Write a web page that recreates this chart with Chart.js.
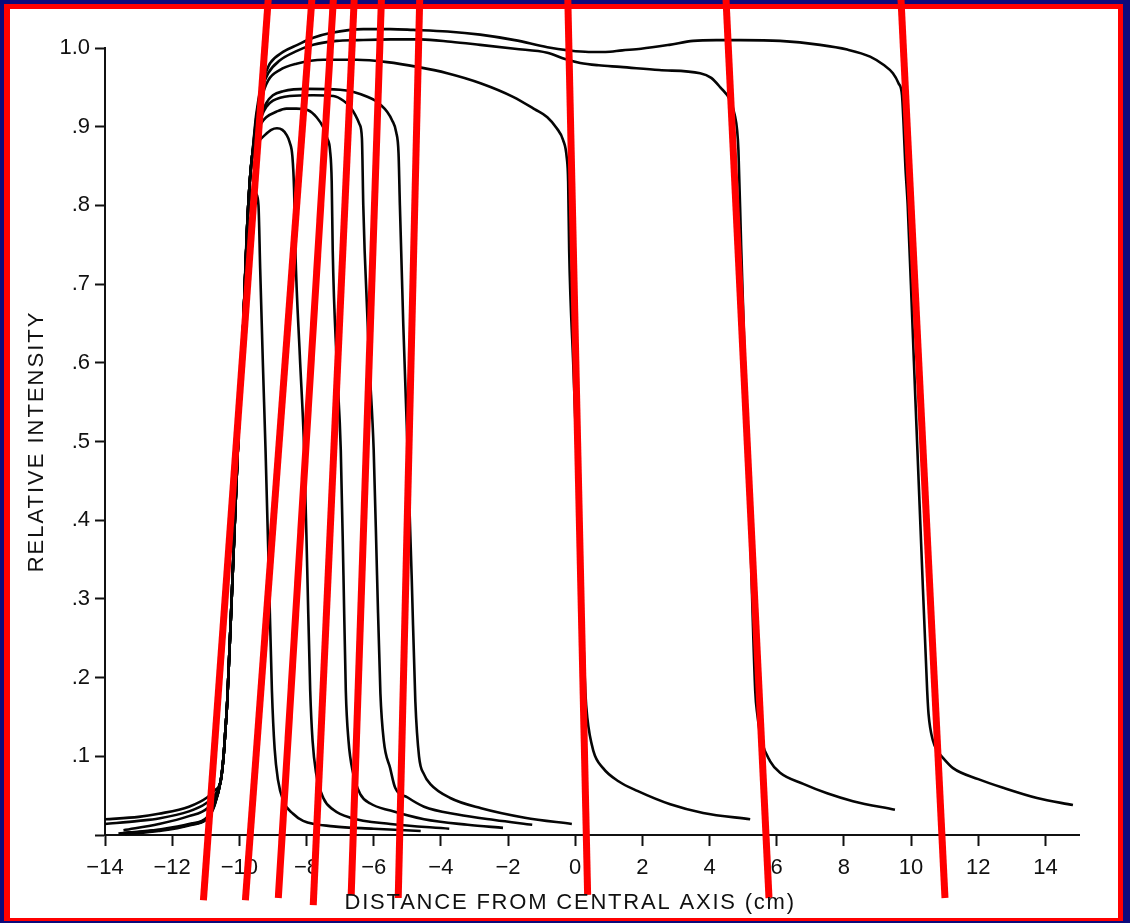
<!DOCTYPE html>
<html>
<head>
<meta charset="utf-8">
<title>Relative intensity profiles</title>
<script src="https://cdn.jsdelivr.net/npm/chart.js@4.4.0/dist/chart.umd.min.js"></script>
<style>
  html, body { margin: 0; padding: 0; background: #0c0a7c; }
  #page { position: relative; width: 1130px; height: 923px; overflow: hidden; background: #0c0a7c; }
  #redFrame { position: absolute; left: 4px; top: 4px; width: 1119px; height: 917px; background: #ff0000; }
  #paper { position: absolute; left: 10px; top: 9px; width: 1108px; height: 909px; background: #ffffff; }
  canvas { position: absolute; left: 0; top: 0; }
</style>
</head>
<body>
<div id="page">
  <div id="redFrame"></div>
  <div id="paper"></div>
  <canvas id="profileChart" width="1130" height="923"></canvas>
</div>
<script>
// Axis ticks and titles
const xTicks = [-14, -12, -10, -8, -6, -4, -2, 0, 2, 4, 6, 8, 10, 12, 14];
const xTickLabels = ['\u221214', '\u221212', '\u221210', '\u22128', '\u22126', '\u22124', '\u22122', '0', '2', '4', '6', '8', '10', '12', '14'];
const yTicks = [0, 0.1, 0.2, 0.3, 0.4, 0.5, 0.6, 0.7, 0.8, 0.9, 1.0];
const yTickLabels = ['', '.1', '.2', '.3', '.4', '.5', '.6', '.7', '.8', '.9', '1.0'];
const xTitle = 'DISTANCE FROM CENTRAL AXIS (cm)';
const yTitle = 'RELATIVE INTENSITY';

// Left penumbra, common to every profile
const edgeX = [-10.55, -10.47, -10.42, -10.36, -10.2, -10.06, -9.9, -9.76];
const edgeY = [0.07, 0.10, 0.13, 0.17, 0.33, 0.475, 0.63, 0.78];

// Profiles, smallest field first: left tail, then top and right side
const field1TailX = [-13.4, -12.4, -11.5, -10.95, -10.75];
const field1TailY = [0.001, 0.005, 0.012, 0.021, 0.036];
const field1X = [-9.7, -9.64, -9.57, -9.5, -9.43, -9.38, -9.3, -9.22, -9.12, -9.03, -8.95, -8.85, -8.69, -8.4, -8.1, -7.2, -6.0, -4.6];
const field1Y = [0.805, 0.817, 0.82, 0.815, 0.80, 0.72, 0.60, 0.489, 0.33, 0.183, 0.11, 0.07, 0.043, 0.027, 0.018, 0.011, 0.008, 0.005];

const field2TailX = [-13.5, -12.4, -11.5, -10.95, -10.75];
const field2TailY = [0.002, 0.006, 0.013, 0.022, 0.037];
const field2X = [-9.69, -9.61, -9.45, -9.25, -9.05, -8.88, -8.72, -8.6, -8.5, -8.42, -8.37, -8.33, -8.2, -8.07, -7.98, -7.89, -7.82, -7.72, -7.5, -7.2, -6.7, -5.5, -3.75];
const field2Y = [0.83, 0.866, 0.880, 0.889, 0.896, 0.898, 0.896, 0.890, 0.880, 0.862, 0.82, 0.74, 0.61, 0.489, 0.34, 0.183, 0.12, 0.08, 0.047, 0.032, 0.022, 0.014, 0.008];

const field3TailX = [-13.55, -12.4, -11.5, -10.95, -10.75];
const field3TailY = [0.002, 0.006, 0.013, 0.022, 0.038];
const field3X = [-9.69, -9.61, -9.5, -9.35, -9.2, -8.9, -8.6, -8.3, -7.95, -7.7, -7.5, -7.38, -7.3, -7.25, -7.22, -7.1, -6.98, -6.9, -6.83, -6.75, -6.62, -6.4, -6.1, -5.5, -4.5, -3.2, -2.15];
const field3Y = [0.83, 0.866, 0.885, 0.904, 0.912, 0.919, 0.923, 0.923, 0.921, 0.912, 0.899, 0.885, 0.87, 0.83, 0.743, 0.60, 0.489, 0.33, 0.183, 0.12, 0.08, 0.052, 0.040, 0.031, 0.020, 0.013, 0.009];

const field4TailX = [-13.55, -12.4, -11.5, -10.95, -10.75];
const field4TailY = [0.002, 0.006, 0.013, 0.022, 0.038];
const field4X = [-9.69, -9.61, -9.5, -9.35, -9.2, -9.0, -8.5, -7.8, -7.2, -6.9, -6.7, -6.55, -6.42, -6.35, -6.31, -6.27, -6.13, -6.0, -5.9, -5.8, -5.7, -5.51, -5.36, -5.0, -4.5, -3.5, -2.4, -1.28];
const field4Y = [0.83, 0.866, 0.89, 0.912, 0.925, 0.933, 0.939, 0.940, 0.939, 0.933, 0.925, 0.915, 0.903, 0.885, 0.80, 0.743, 0.60, 0.489, 0.33, 0.18, 0.12, 0.085, 0.060, 0.048, 0.036, 0.026, 0.019, 0.013];

const field5TailX = [-13.6, -12.4, -11.5, -10.95, -10.75];
const field5TailY = [0.002, 0.007, 0.014, 0.023, 0.039];
const field5X = [-9.69, -9.61, -9.5, -9.35, -9.2, -9.0, -8.7, -8.0, -7.0, -6.6, -6.19, -5.95, -5.8, -5.6, -5.45, -5.33, -5.26, -5.22, -5.12, -4.99, -4.87, -4.76, -4.65, -4.5, -4.32, -3.72, -2.8, -1.5, -0.1];
const field5Y = [0.83, 0.866, 0.892, 0.915, 0.930, 0.940, 0.945, 0.948, 0.947, 0.944, 0.938, 0.933, 0.928, 0.919, 0.908, 0.893, 0.866, 0.80, 0.65, 0.489, 0.33, 0.17, 0.10, 0.077, 0.065, 0.047, 0.034, 0.022, 0.014];

const field6TailX = [-13.45, -12.4, -11.5, -10.95, -10.75];
const field6TailY = [0.006, 0.014, 0.024, 0.034, 0.046];
const field6X = [-9.69, -9.61, -9.5, -9.35, -9.14, -8.8, -8.3, -7.5, -6.5, -5.6, -4.7, -3.81, -2.8, -1.85, -1.2, -0.83, -0.55, -0.36, -0.25, -0.21, -0.18, -0.06, 0.06, 0.18, 0.30, 0.36, 0.54, 0.83, 1.3, 1.85, 2.83, 3.81, 5.21];
const field6Y = [0.83, 0.866, 0.905, 0.935, 0.959, 0.972, 0.980, 0.985, 0.985, 0.982, 0.976, 0.968, 0.955, 0.938, 0.922, 0.912, 0.898, 0.883, 0.86, 0.83, 0.743, 0.60, 0.463, 0.32, 0.183, 0.149, 0.107, 0.085, 0.068, 0.056, 0.039, 0.028, 0.020];

const field7TailX = [-14, -13, -12.4, -11.5, -11.0, -10.75];
const field7TailY = [0.014, 0.018, 0.021, 0.030, 0.040, 0.050];
const field7X = [-9.69, -9.61, -9.5, -9.35, -9.14, -8.8, -8.3, -7.8, -7.1, -6.49, -5.5, -4.61, -3.7, -2.83, -1.8, -0.83, -0.3, 0.15, 0.7, 1.34, 2.5, 3.72, 4.05, 4.32, 4.61, 4.75, 4.82, 4.86, 4.94, 5.05, 5.2, 5.36, 5.42, 5.55, 5.80, 6.10, 6.79, 7.5, 8.27, 9.52];
const field7Y = [0.83, 0.866, 0.91, 0.945, 0.968, 0.984, 0.996, 1.004, 1.009, 1.010, 1.011, 1.011, 1.008, 1.004, 0.999, 0.994, 0.986, 0.981, 0.978, 0.976, 0.972, 0.968, 0.962, 0.950, 0.934, 0.915, 0.896, 0.87, 0.75, 0.6, 0.4, 0.183, 0.154, 0.12, 0.094, 0.079, 0.065, 0.053, 0.043, 0.032];

const field8TailX = [-14, -13, -12.4, -11.5, -10.95, -10.75];
const field8TailY = [0.020, 0.023, 0.027, 0.036, 0.048, 0.056];
const field8X = [-9.69, -9.61, -9.5, -9.35, -9.2, -9.08, -8.7, -8.27, -7.8, -7.29, -6.31, -5.5, -4.82, -3.8, -2.83, -1.8, -0.83, -0.2, 0.4, 0.9, 1.4, 1.96, 2.8, 3.51, 4.2, 4.91, 6.10, 7.29, 8.1, 8.78, 9.2, 9.46, 9.63, 9.73, 9.78, 9.83, 9.9, 10.04, 10.13, 10.3, 10.48, 10.52, 10.65, 10.8, 10.95, 11.25, 12.0, 12.74, 13.75, 14.82];
const field8Y = [0.83, 0.866, 0.915, 0.952, 0.970, 0.981, 0.995, 1.004, 1.013, 1.019, 1.024, 1.024, 1.023, 1.021, 1.017, 1.01, 1.001, 0.997, 0.995, 0.995, 0.997, 0.999, 1.004, 1.009, 1.010, 1.010, 1.009, 1.004, 0.998, 0.989, 0.978, 0.968, 0.955, 0.94, 0.90, 0.85, 0.80, 0.65, 0.552, 0.37, 0.183, 0.154, 0.120, 0.106, 0.098, 0.085, 0.071, 0.060, 0.047, 0.038];

// Red straight lines drawn over the scan (top end at the page edge)
const redTopY = 1.062;
const redTopX = [-9.14, -7.84, -7.20, -6.58, -5.77, -4.63, -0.22, 4.49, 9.70];
const redBottomX = [-11.07, -9.82, -8.84, -7.80, -6.67, -5.27, 0.37, 5.77, 11.01];
const redBottomY = [-0.083, -0.083, -0.080, -0.089, -0.076, -0.080, -0.076, -0.080, -0.080];

const fields = [
    [field1TailX, field1TailY, field1X, field1Y],
    [field2TailX, field2TailY, field2X, field2Y],
    [field3TailX, field3TailY, field3X, field3Y],
    [field4TailX, field4TailY, field4X, field4Y],
    [field5TailX, field5TailY, field5X, field5Y],
    [field6TailX, field6TailY, field6X, field6Y],
    [field7TailX, field7TailY, field7X, field7Y],
    [field8TailX, field8TailY, field8X, field8Y]
];

function toPoints(xs, ys) {
    return xs.map((x, i) => ({ x: x, y: ys[i] }));
}

const datasets = [];

// Red lines first so they are painted on top
redTopX.forEach((topX, i) => {
    datasets.push({
        data: [{ x: topX, y: redTopY }, { x: redBottomX[i], y: redBottomY[i] }],
        showLine: true,
        borderColor: '#ff0000',
        borderWidth: 7,
        borderCapStyle: 'butt',
        pointRadius: 0,
        tension: 0,
        clip: false,
        order: 0
    });
});

fields.forEach(f => {
    const xs = f[0].concat(edgeX, f[2]);
    const ys = f[1].concat(edgeY, f[3]);
    datasets.push({
        data: toPoints(xs, ys),
        showLine: true,
        borderColor: '#050505',
        borderWidth: 2.6,
        borderJoinStyle: 'round',
        pointRadius: 0,
        cubicInterpolationMode: 'monotone',
        clip: false,
        order: 1
    });
});

// Axis titles, drawn with letter spacing like the hand lettering
const axisTitles = {
    id: 'axisTitles',
    afterDraw(chart) {
        const ctx = chart.ctx;
        const xScale = chart.scales.x;
        const yScale = chart.scales.y;
        ctx.save();
        ctx.fillStyle = '#111111';
        ctx.font = '22px "Liberation Sans", Arial, sans-serif';
        ctx.textAlign = 'center';
        ctx.textBaseline = 'middle';
        ctx.letterSpacing = '1.8px';
        ctx.fillText(xTitle, xScale.getPixelForValue(-0.15), 903);
        ctx.translate(37, (yScale.top + yScale.bottom) / 2);
        ctx.rotate(-Math.PI / 2);
        ctx.letterSpacing = '2px';
        ctx.fillText(yTitle, 0, 0);
        ctx.restore();
    }
};

const tickFont = { family: '"Liberation Sans", Arial, sans-serif', size: 22 };

new Chart(document.getElementById('profileChart').getContext('2d'), {
    type: 'scatter',
    data: { datasets: datasets },
    plugins: [axisTitles],
    options: {
        responsive: false,
        maintainAspectRatio: false,
        animation: false,
        devicePixelRatio: 1,
        layout: { padding: { left: 0, right: 51, top: 48, bottom: 0 } },
        plugins: {
            legend: { display: false },
            tooltip: { enabled: false }
        },
        scales: {
            x: {
                type: 'linear',
                min: -14,
                max: 15,
                afterFit: scale => { scale.height = 88; },
                afterBuildTicks: scale => { scale.ticks = xTicks.map(v => ({ value: v })); },
                grid: { drawOnChartArea: false, drawTicks: true, tickLength: 11, tickWidth: 2, tickColor: '#111111' },
                border: { display: true, color: '#111111', width: 2 },
                ticks: {
                    autoSkip: false,
                    maxRotation: 0,
                    padding: 9,
                    color: '#111111',
                    font: tickFont,
                    callback: (value, index) => xTickLabels[index]
                }
            },
            y: {
                type: 'linear',
                min: 0,
                max: 1.0,
                afterFit: scale => { scale.width = 105; },
                afterBuildTicks: scale => { scale.ticks = yTicks.map(v => ({ value: v })); },
                grid: { drawOnChartArea: false, drawTicks: true, tickLength: 10, tickWidth: 2, tickColor: '#111111' },
                border: { display: true, color: '#111111', width: 2 },
                ticks: {
                    autoSkip: false,
                    padding: 5,
                    color: '#111111',
                    font: tickFont,
                    callback: (value, index) => yTickLabels[index]
                }
            }
        }
    }
});
</script>
</body>
</html>
